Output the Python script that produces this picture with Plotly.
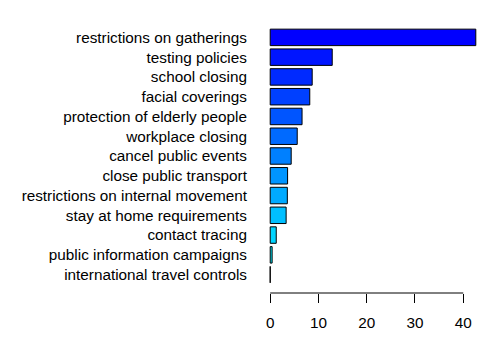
import plotly.graph_objects as go

# measures, top to bottom as in the chart
measures = [
    "restrictions on gatherings",
    "testing policies",
    "school closing",
    "facial coverings",
    "protection of elderly people",
    "workplace closing",
    "cancel public events",
    "close public transport",
    "restrictions on internal movement",
    "stay at home requirements",
    "contact tracing",
    "public information campaigns",
    "international travel controls",
]
values = [42.6, 12.85, 8.7, 8.2, 6.6, 5.6, 4.35, 3.6, 3.55, 3.3, 1.25, 0.4, 0.0]
x_ticks = [0, 10, 20, 30, 40]


def ramp_blue_cyan(n):
    # like colorRampPalette(c("blue", "cyan"))(n)
    return ["#00%02X%s" % (round(255 * i / (n - 1)), "FF") for i in range(n)]


colors = ramp_blue_cyan(len(measures))

# plotly draws categories bottom-up, so reverse everything
fig = go.Figure(go.Bar(
    x=values[::-1],
    y=measures[::-1],
    orientation="h",
    marker=dict(color=colors[::-1], line=dict(color="black", width=1)),
    hoverinfo="x+y",
))

font = dict(family="Arial, Liberation Sans, sans-serif", size=15.3, color="black")

fig.update_layout(
    width=495,
    height=350,
    margin=dict(l=262, r=11, t=19, b=57, autoexpand=False),
    paper_bgcolor="white",
    plot_bgcolor="white",
    bargap=0.167,
    showlegend=False,
    font=font,
    xaxis=dict(
        range=[-1.7, 44.3],
        tickvals=x_ticks,
        ticks="outside",
        ticklen=9,
        tickwidth=1,
        tickcolor="black",
        ticklabelstandoff=7,
        showgrid=False,
        zeroline=False,
        showline=False,
        automargin=False,
        tickfont=font,
    ),
    yaxis=dict(
        range=[-0.93, len(measures) - 1 + 0.93],
        ticks="outside",
        ticklen=11,
        tickcolor="rgba(0,0,0,0)",
        showgrid=False,
        zeroline=False,
        showline=False,
        automargin=False,
        tickfont=font,
    ),
)

# R-style axis line running only from the first to the last tick
fig.add_shape(
    type="line", xref="x", yref="paper",
    x0=x_ticks[0], x1=x_ticks[-1], y0=0, y1=0,
    line=dict(color="black", width=1),
)

# drop the browser's default 8px body margin so the figure sits at 0,0
fig.write_html(
    "out.html",
    config={"displayModeBar": False},
    post_script="document.body.style.margin='0';",
)
